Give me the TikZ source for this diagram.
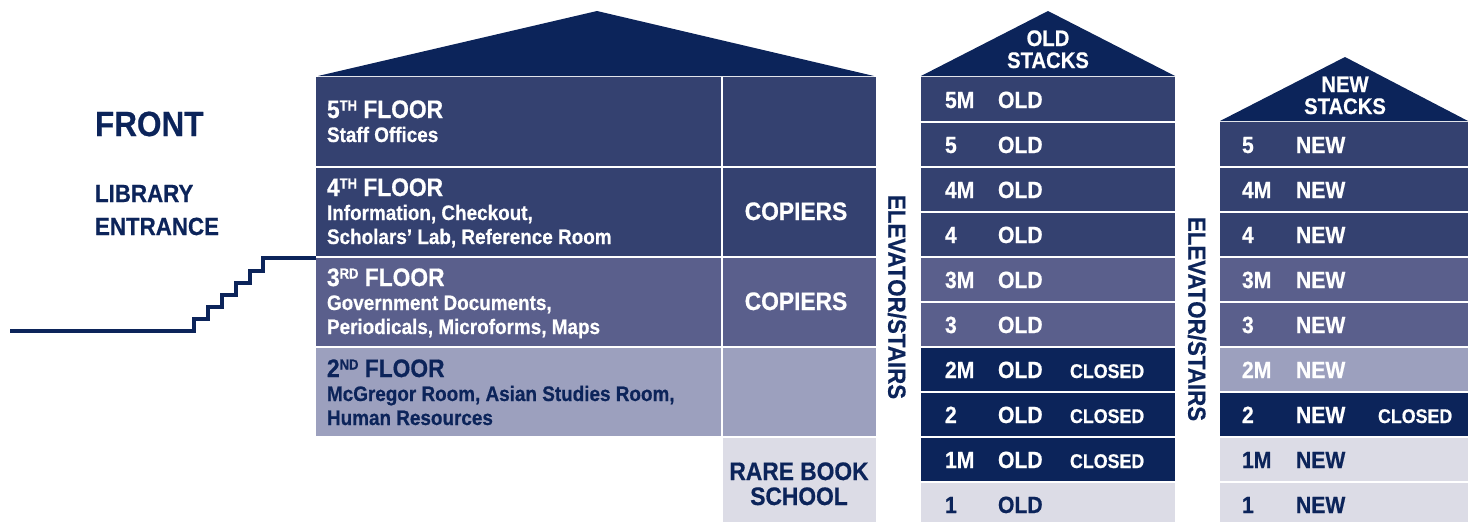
\documentclass[tikz,border=0pt]{standalone}
\usepackage{fontspec}
\setmainfont[FakeStretch=0.9,BoldFeatures={FakeBold=0.6}]{Liberation Sans}
\definecolor{navy}{HTML}{0C245A}
\definecolor{slate}{HTML}{344170}
\definecolor{mid}{HTML}{5A5F8C}
\definecolor{lilac}{HTML}{9CA0BE}
\definecolor{pale}{HTML}{DCDCE6}
\newcommand\supx[1]{\raisebox{7.5pt}{\fontsize{14.5}{14.5}\selectfont #1}}
\begin{document}
\begin{tikzpicture}[x=1pt,y=-1pt,
  cell/.style={anchor=north west, inner sep=0pt, outer sep=0pt, draw=none},
  txt/.style={anchor=base west, inner sep=0pt, outer sep=0pt, font=\bfseries},
  ttl/.style={txt, font=\fontsize{25.3}{25.3}\selectfont\bfseries},
  sub/.style={txt, font=\fontsize{21}{21}\selectfont\bfseries},
  stk/.style={txt, font=\fontsize{23.5}{23.5}\selectfont\bfseries},
  cls/.style={txt, font=\fontsize{19.8}{19.8}\selectfont\bfseries},
  big/.style={anchor=base, inner sep=0pt, font=\fontsize{25.3}{25.3}\selectfont\bfseries},
  roof/.style={anchor=base, inner sep=0pt, font=\fontsize{22.5}{22.5}\selectfont\bfseries, text=white},
  elev/.style={rotate=-90, inner sep=0pt, font=\fontsize{24.8}{24.8}\selectfont\bfseries, text=navy},
  srow/.style={cell, minimum height=43.5pt},
  ]
\useasboundingbox (0,0) rectangle (1468,522);

% ---------- left side ----------
\node[txt, text=navy, font=\fontsize{35}{35}\selectfont\bfseries] (front) at (95,136) {FRONT};
\node[txt, text=navy, font=\fontsize{24.8}{24.8}\selectfont\bfseries] (lib) at (95,202) {LIBRARY};
\node[txt, text=navy, font=\fontsize{24.8}{24.8}\selectfont\bfseries] (ent) at (95,235) {ENTRANCE};

% ---------- main building ----------
\fill[navy] (318,76) -- (597,11) -- (874,76) -- cycle;
\node[cell, fill=slate, minimum width=405pt, minimum height=89pt] (f5) at (316,77) {};
\node[cell, fill=slate, minimum width=153pt, minimum height=89pt] (c5) at (723,77) {};
\node[cell, fill=slate, minimum width=405pt, minimum height=88pt] (f4) at (316,168) {};
\node[cell, fill=slate, minimum width=153pt, minimum height=88pt] (c4) at (723,168) {};
\node[cell, fill=mid, minimum width=405pt, minimum height=88pt] (f3) at (316,258) {};
\node[cell, fill=mid, minimum width=153pt, minimum height=88pt] (c3) at (723,258) {};
\node[cell, fill=lilac, minimum width=405pt, minimum height=88pt] (f2) at (316,348) {};
\node[cell, fill=lilac, minimum width=153pt, minimum height=88pt] (c2) at (723,348) {};
\node[cell, fill=pale, minimum width=153pt, minimum height=84pt] (rb) at (723,438) {};

% staircase
\coordinate (stairstart) at (10,331);
\draw[navy, line width=3.2pt] (stairstart) -- (194,331) -- (194,319) -- (208,319) -- (208,307)
  -- (222,307) -- (222,295) -- (236,295) -- (236,283) -- (250,283) -- (250,271)
  -- (263,271) -- (263,258) -- (f3.north west);

% floor texts
\node[ttl, text=white] (t5) at (327,118) {5\supx{TH} FLOOR};
\node[sub, text=white] (s5) at (327,142) {Staff Offices};
\node[ttl, text=white] (t4) at (327,196) {4\supx{TH} FLOOR};
\node[sub, text=white] (s4a) at (327,220) {Information, Checkout,};
\node[sub, text=white] (s4b) at (327,244) {Scholars’ Lab, Reference Room};
\node[ttl, text=white] (t3) at (327,286) {3\supx{RD} FLOOR};
\node[sub, text=white] (s3a) at (327,310) {Government Documents,};
\node[sub, text=white] (s3b) at (327,334) {Periodicals, Microforms, Maps};
\node[ttl, text=navy] (t2) at (327,377) {2\supx{ND} FLOOR};
\node[sub, text=navy] (s2a) at (327,401) {McGregor Room, Asian Studies Room,};
\node[sub, text=navy] (s2b) at (327,425) {Human Resources};

\node[big, text=white] (cop4) at (796,220) {COPIERS};
\node[big, text=white] (cop3) at (796,310) {COPIERS};
\node[big, text=navy] (rb1) at (799,480) {RARE BOOK};
\node[big, text=navy] (rb2) at (799,505) {SCHOOL};

% elevators
\node[elev] (elev1) at (897,297) {ELEVATOR/STAIRS};
\node[elev] (elev2) at (1197,319) {ELEVATOR/STAIRS};

% ---------- old stacks ----------
\fill[navy] (921,76) -- (1048,11) -- (1175,76) -- cycle;
\node[roof] (oldr1) at (1048,46) {OLD};
\node[roof] (oldr2) at (1048,68) {STACKS};
\node[srow, fill=slate, minimum width=254pt] (o5M) at (921,77) {};
\node[srow, fill=slate, minimum width=254pt] (o5) at (921,122.5) {};
\node[srow, fill=slate, minimum width=254pt] (o4M) at (921,167.5) {};
\node[srow, fill=slate, minimum width=254pt] (o4) at (921,212.5) {};
\node[srow, fill=mid, minimum width=254pt] (o3M) at (921,257.5) {};
\node[srow, fill=mid, minimum width=254pt] (o3) at (921,302.5) {};
\node[srow, fill=navy, minimum width=254pt] (o2M) at (921,347.5) {};
\node[srow, fill=navy, minimum width=254pt] (o2) at (921,392.5) {};
\node[srow, fill=navy, minimum width=254pt] (o1M) at (921,437.5) {};
\node[cell, fill=pale, minimum width=254pt, minimum height=40pt] (o1) at (921,482.5) {};

\foreach \n/\t/\l in {5M/77/5M, 5/122/5, 4M/167/4M, 4/212/4, 3M/257/3M, 3/302/3, 2M/347/2M, 2/392/2, 1M/437/1M}{
  \node[stk, text=white] (ol\n) at (945,\t+31) {\l};
  \node[stk, text=white] (ow\n) at (998,\t+31) {OLD};
}
\node[stk, text=navy] (ol1) at (945,513) {1};
\node[stk, text=navy] (ow1) at (998,513) {OLD};
\node[cls, text=white] (oc2M) at (1070,378) {CLOSED};
\node[cls, text=white] (oc2) at (1070,423) {CLOSED};
\node[cls, text=white] (oc1M) at (1070,468) {CLOSED};

% ---------- new stacks ----------
\fill[navy] (1220,121) -- (1345,57) -- (1468,121) -- cycle;
\node[roof] (newr1) at (1345,92) {NEW};
\node[roof] (newr2) at (1345,114) {STACKS};
\node[srow, fill=slate, minimum width=248pt] (n5) at (1220,122) {};
\node[srow, fill=slate, minimum width=248pt] (n4M) at (1220,167.5) {};
\node[srow, fill=slate, minimum width=248pt] (n4) at (1220,212.5) {};
\node[srow, fill=mid, minimum width=248pt] (n3M) at (1220,257.5) {};
\node[srow, fill=mid, minimum width=248pt] (n3) at (1220,302.5) {};
\node[srow, fill=lilac, minimum width=248pt] (n2M) at (1220,347.5) {};
\node[srow, fill=navy, minimum width=248pt] (n2) at (1220,392.5) {};
\node[srow, fill=pale, minimum width=248pt] (n1M) at (1220,437.5) {};
\node[cell, fill=pale, minimum width=248pt, minimum height=40pt] (n1) at (1220,482.5) {};

\foreach \n/\t/\l in {5/122/5, 4M/167/4M, 4/212/4, 3M/257/3M, 3/302/3, 2M/347/2M, 2/392/2}{
  \node[stk, text=white] (nl\n) at (1242,\t+31) {\l};
  \node[stk, text=white] (nw\n) at (1296,\t+31) {NEW};
}
\node[stk, text=navy] (nl1M) at (1242,468) {1M};
\node[stk, text=navy] (nw1M) at (1296,468) {NEW};
\node[stk, text=navy] (nl1) at (1242,513) {1};
\node[stk, text=navy] (nw1) at (1296,513) {NEW};
\node[cls, text=white] (nc2) at (1378,423) {CLOSED};
\end{tikzpicture}
\end{document}
